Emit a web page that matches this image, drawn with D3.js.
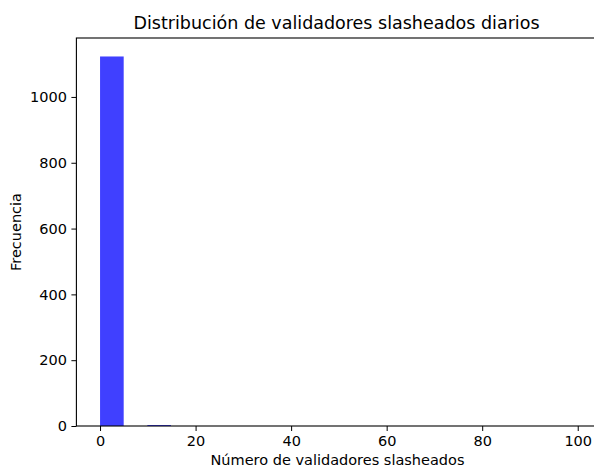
<!DOCTYPE html>
<html>
<head>
<meta charset="utf-8">
<script src="https://cdn.jsdelivr.net/npm/d3@7"></script>
<style>
  html, body { margin: 0; padding: 0; background: #fff; }
  svg { display: block; font-family: "DejaVu Sans", sans-serif; }
</style>
</head>
<body>
<svg id="chart" width="594" height="469"></svg>
<script>
// Histogram bins: 20 equal-width bins over [0, 99]
const binStart = 0;
const binEnd = 99;
const binCount = 20;
// Number of days falling in each bin
const frequencies = [1123, 0, 3, 0, 0, 0, 0, 0, 0, 0, 0, 0, 0, 0, 0, 0, 0, 0, 0, 0];
const xTickValues = [0, 20, 40, 60, 80, 100];
const yTickValues = [0, 200, 400, 600, 800, 1000];

const titleText = "Distribución de validadores slasheados diarios";
const xLabel = "Número de validadores slasheados";
const yLabel = "Frecuencia";

const svg = d3.select("#chart");
const W = 594, H = 469;
const margin = { left: 76.4, top: 38, right: W - 596.6, bottom: H - 426 };
const x0 = margin.left, x1 = W - margin.right;
const y0 = H - margin.bottom, y1 = margin.top;

const binWidth = (binEnd - binStart) / binCount;
const bins = frequencies.map((f, i) => ({
  lo: binStart + i * binWidth,
  hi: binStart + (i + 1) * binWidth,
  count: f
}));

const pad = (binEnd - binStart) * 0.05;
const x = d3.scaleLinear().domain([binStart - pad, binEnd + pad]).range([x0, x1]);
const yMax = d3.max(frequencies) * 1.05;
const y = d3.scaleLinear().domain([0, yMax]).range([y0, y1]);

// Bars
svg.append("g").selectAll("rect")
  .data(bins.filter(b => b.count > 0))
  .join("rect")
  .attr("x", d => x(d.lo))
  .attr("width", d => x(d.hi) - x(d.lo))
  .attr("y", d => y(d.count))
  .attr("height", d => y(0) - y(d.count))
  .attr("fill", "blue")
  .attr("fill-opacity", 0.75);

// Axes
const fontPx = 14.5;
const xAxis = svg.append("g")
  .attr("transform", `translate(0,${y0})`)
  .call(d3.axisBottom(x).tickValues(xTickValues).tickSize(5).tickPadding(4.5).tickFormat(d3.format("d")));
const yAxis = svg.append("g")
  .attr("transform", `translate(${x0},0)`)
  .call(d3.axisLeft(y).tickValues(yTickValues).tickSize(5).tickPadding(4.5).tickFormat(d3.format("d")));

[xAxis, yAxis].forEach(g => {
  g.select(".domain").remove();
  g.selectAll("line").attr("stroke", "#000").attr("stroke-width", 1);
  g.selectAll("text").attr("fill", "#000").style("font-size", fontPx + "px")
    .style("font-family", "DejaVu Sans, sans-serif");
});

// Frame (spines)
svg.append("rect")
  .attr("x", x0).attr("y", y1)
  .attr("width", x1 - x0).attr("height", y0 - y1)
  .attr("fill", "none").attr("stroke", "#000").attr("stroke-width", 1.1);

// Title and axis labels
svg.append("text")
  .attr("x", (x0 + x1) / 2).attr("y", 29)
  .attr("text-anchor", "middle")
  .style("font-size", "17.5px")
  .text(titleText);

svg.append("text")
  .attr("x", (x0 + x1) / 2 + 1).attr("y", 465)
  .attr("text-anchor", "middle")
  .style("font-size", fontPx + "px")
  .text(xLabel);

svg.append("text")
  .attr("transform", `translate(21,${(y0 + y1) / 2}) rotate(-90)`)
  .attr("text-anchor", "middle")
  .style("font-size", fontPx + "px")
  .text(yLabel);
</script>
</body>
</html>
